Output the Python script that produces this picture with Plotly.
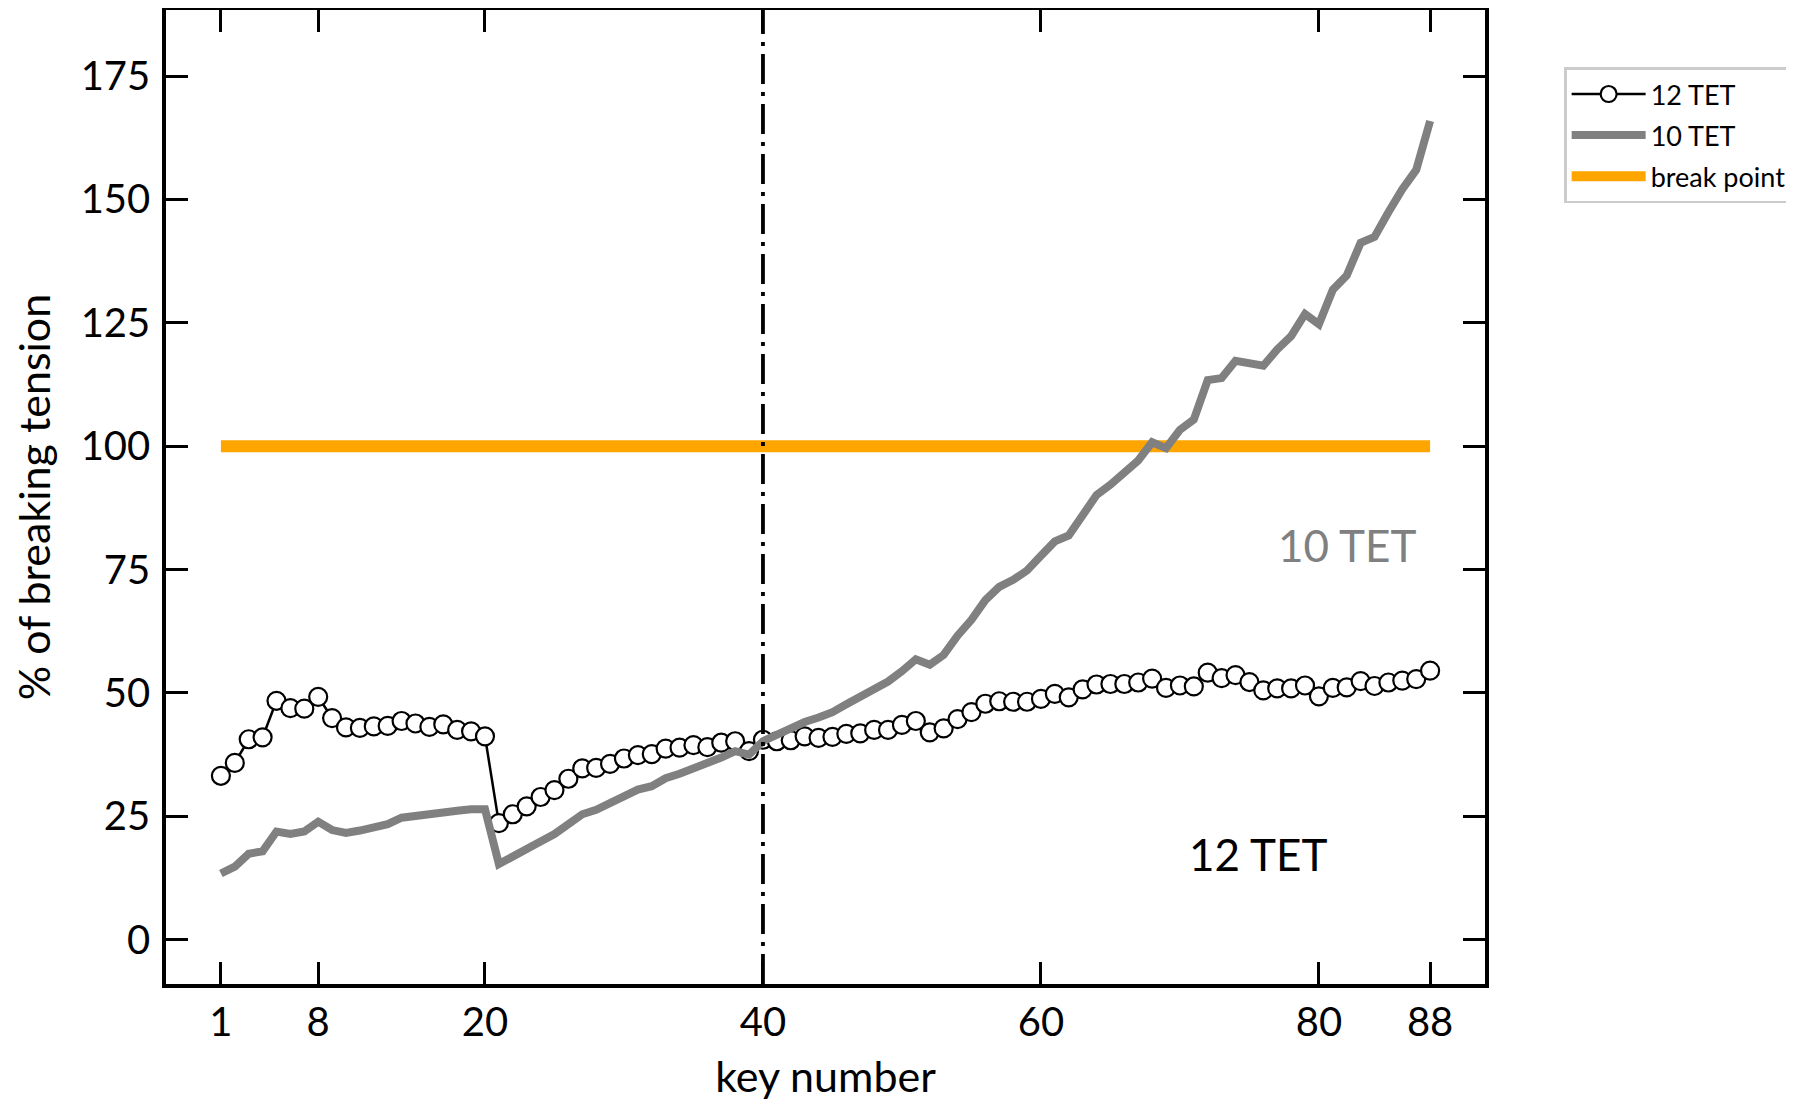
import plotly.graph_objects as go

keys = list(range(1, 89))

tet12 = [33.2, 35.8, 40.6, 41.0, 48.4, 46.9, 46.8, 49.2, 44.9, 43.0,
         42.9, 43.2, 43.3, 44.3, 43.8, 43.1, 43.6, 42.5, 42.2, 41.2,
         23.6, 25.4, 27.0, 28.9, 30.3, 32.6, 34.7, 34.8, 35.6, 36.7,
         37.4, 37.6, 38.7, 38.9, 39.4, 39.0, 39.9, 40.2, 38.2, 40.5,
         40.2, 40.4, 41.2, 40.9, 41.1, 41.7, 41.8, 42.5, 42.5, 43.5,
         44.3, 42.0, 42.8, 44.7, 46.1, 47.8, 48.3, 48.2, 48.2, 48.8,
         49.8, 49.1, 50.7, 51.7, 51.8, 51.8, 52.1, 52.9, 51.0, 51.5,
         51.3, 54.1, 53.0, 53.6, 52.2, 50.5, 50.9, 50.9, 51.5, 49.3,
         51.0, 51.1, 52.4, 51.4, 52.1, 52.5, 52.8, 54.5]

tet10 = [13.4, 14.8, 17.4, 17.9, 21.9, 21.4, 21.9, 23.9, 22.2, 21.6,
         22.1, 22.8, 23.4, 24.7, 25.1, 25.3, 26.1, 26.1, 26.4, 26.4,
         15.3, 16.7, 18.4, 19.9, 21.4, 23.4, 25.4, 26.3, 27.7, 29.1,
         30.4, 31.1, 32.7, 33.6, 34.6, 35.5, 36.9, 38.2, 37.5, 40.2,
         41.6, 42.8, 44.1, 45.0, 46.1, 47.7, 49.2, 51.0, 52.3, 54.4,
         56.8, 55.7, 57.7, 61.6, 64.8, 68.8, 71.5, 72.9, 74.8, 77.8,
         80.7, 81.9, 86.0, 90.1, 92.2, 94.4, 97.1, 100.8, 99.6, 103.3,
         105.4, 113.4, 113.8, 117.3, 116.8, 116.3, 119.6, 122.3, 126.8, 124.7,
         131.7, 134.6, 141.2, 142.4, 147.4, 152.1, 156.0, 165.9]

break_x = [1, 88]
break_y = [100, 100]

marker_key = 40
x_ticks = [1, 8, 20, 40, 60, 80, 88]
y_ticks = [0, 25, 50, 75, 100, 125, 150, 175]

FONT = "Lato"

fig = go.Figure()

fig.add_trace(go.Scatter(
    x=break_x, y=break_y, mode="lines", name="break point",
    line=dict(color="#FFA500", width=12), legendrank=3, legendgroup="c"))

fig.add_trace(go.Scatter(
    x=keys, y=tet12, mode="lines+markers", name="12 TET",
    line=dict(color="black", width=2.5),
    marker=dict(symbol="circle", size=18, color="white",
                line=dict(color="black", width=2.2)),
    legendrank=1, legendgroup="a"))

fig.add_trace(go.Scatter(
    x=keys, y=tet10, mode="lines", name="10 TET",
    line=dict(color="#808080", width=8), legendrank=2, legendgroup="b"))

fig.add_shape(type="line", xref="x", yref="paper",
              x0=marker_key, x1=marker_key, y0=0, y1=1,
              line=dict(color="black", width=3.8, dash="30px,8px,4px,8px"),
              layer="above")

fig.add_annotation(x=82, y=79.9, text="10 TET", showarrow=False,
                   font=dict(family=FONT, size=44, color="#808080"))
fig.add_annotation(x=75.6, y=17.3, text="12 TET", showarrow=False,
                   font=dict(family=FONT, size=44, color="black"))

axis_common = dict(showline=True, linecolor="black", linewidth=3.5,
                   mirror="ticks", ticks="inside", ticklen=22, tickwidth=2.8,
                   tickcolor="black", showgrid=False, zeroline=False,
                   automargin=False,
                   tickfont=dict(family=FONT, size=40, color="black"))

fig.update_xaxes(range=[-2.95, 91.95], tickmode="array", tickvals=x_ticks,
                 title=dict(text="key number", font=dict(family=FONT, size=43, color="black"),
                            standoff=24),
                 ticklabelstandoff=0, **axis_common)
fig.update_yaxes(range=[-9.0, 188.4], tickmode="array", tickvals=y_ticks,
                 title=dict(text="% of breaking tension", font=dict(family=FONT, size=43, color="black"),
                            standoff=20),
                 ticklabelstandoff=4, **axis_common)

# page body has an 8px margin, so the figure is sized to fit the window
fig.update_layout(
    width=1778, height=1093,
    margin=dict(l=158, r=301, t=2, b=117, autoexpand=False),
    plot_bgcolor="white", paper_bgcolor="white",
    legend=dict(x=1.06, y=0.941, xanchor="left", yanchor="top",
                bgcolor="white", bordercolor="#cccccc", borderwidth=2.5,
                font=dict(family=FONT, size=27, color="black"),
                itemwidth=74,
                traceorder="grouped", tracegroupgap=3),
    showlegend=True,
)

fig.write_html("out.html")
